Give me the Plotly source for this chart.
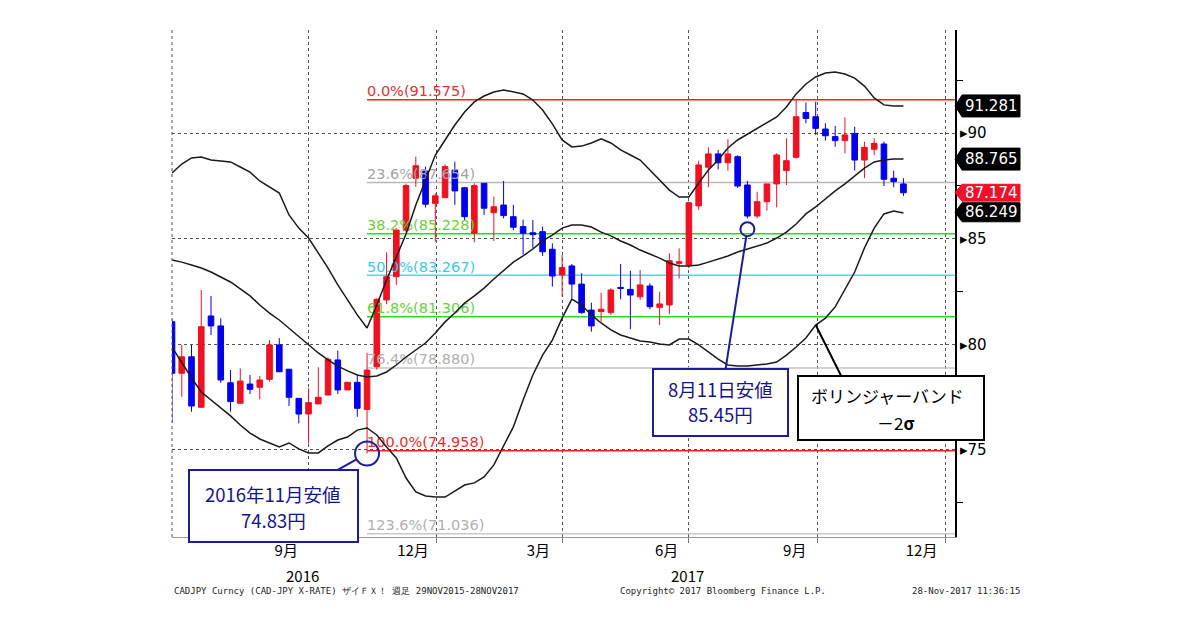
import plotly.graph_objects as go
import pandas as pd

# weekly CAD/JPY candles
opens = [81.07, 78.63, 79.41, 77.02, 81.34, 80.87, 78.18, 77.21, 78.12, 77.97,
         78.34, 79.97, 78.82, 77.44, 76.70, 77.18, 77.60, 79.26, 77.84, 78.20,
         76.92, 78.94, 82.10, 83.20, 85.40, 87.86, 88.20, 86.67, 86.94, 88.25,
         87.41, 85.26, 87.62, 86.23, 86.59, 86.04, 85.57, 85.28, 85.33, 84.50,
         83.28, 83.71, 82.85, 81.62, 81.55, 81.50, 82.69, 82.60, 82.25, 82.76,
         81.75, 81.86, 83.83, 83.75, 86.55, 88.38, 89.01, 88.59, 88.88, 87.54,
         86.07, 86.75, 87.59, 88.22, 88.85, 90.97, 90.77, 90.19, 89.83, 89.64,
         89.98, 88.72, 89.23, 89.48, 87.86, 87.59]
highs = [81.20, 79.97, 79.97, 82.57, 82.29, 81.23, 78.78, 78.86, 78.55, 78.50,
         80.20, 80.29, 78.82, 77.44, 77.92, 78.91, 79.39, 79.70, 78.20, 78.55,
         79.60, 82.18, 84.35, 85.50, 87.60, 88.88, 88.41, 87.15, 88.52, 88.64,
         87.45, 87.62, 87.62, 86.99, 87.73, 86.60, 85.90, 85.88, 85.57, 84.78,
         84.23, 83.80, 83.36, 81.97, 82.44, 82.65, 83.80, 83.48, 83.52, 82.89,
         82.49, 84.31, 84.54, 86.75, 88.69, 89.32, 89.20, 89.70, 88.95, 87.74,
         87.22, 87.59, 89.04, 89.75, 91.575, 91.44, 91.48, 90.46, 90.33, 90.74,
         90.30, 89.59, 89.75, 89.59, 88.22, 87.86]
lows = [76.28, 77.52, 76.81, 77.00, 80.44, 78.18, 76.81, 77.21, 77.65, 77.40,
        78.23, 78.70, 77.08, 76.26, 75.30, 77.18, 77.60, 77.65, 77.84, 76.57,
        74.83, 78.80, 81.90, 82.81, 85.30, 87.46, 86.47, 84.86, 86.94, 86.60,
        85.88, 84.83, 86.12, 84.89, 85.96, 85.40, 84.25, 84.54, 84.18, 82.73,
        82.25, 82.18, 81.45, 80.60, 81.07, 81.39, 82.13, 80.71, 82.10, 81.66,
        80.91, 81.43, 83.12, 83.60, 86.36, 87.43, 88.28, 88.22, 87.40, 85.96,
        85.96, 86.33, 86.48, 87.54, 88.80, 90.46, 89.91, 89.64, 89.35, 89.04,
        88.22, 87.86, 88.96, 87.49, 87.43, 87.02]
closes = [78.63, 79.41, 77.08, 80.83, 80.87, 78.31, 77.29, 78.26, 77.87, 78.31,
          79.97, 78.70, 77.49, 76.70, 77.24, 77.49, 79.29, 77.84, 78.20, 76.97,
          78.78, 82.13, 83.20, 85.41, 87.51, 88.45, 86.63, 87.03, 88.41, 87.26,
          86.04, 87.51, 86.44, 86.51, 86.09, 85.54, 85.25, 85.19, 84.38, 83.23,
          83.63, 82.85, 81.50, 80.87, 81.66, 82.57, 82.65, 82.33, 82.81, 81.78,
          81.91, 83.96, 83.91, 86.70, 88.49, 89.01, 88.59, 89.01, 87.49, 86.07,
          86.75, 87.59, 88.96, 88.69, 90.77, 90.69, 90.22, 89.87, 89.64, 89.91,
          88.72, 89.32, 89.51, 87.81, 87.70, 87.174]

# bollinger bands (20 weeks, +-2 sigma)
upper = [88.11, 88.53, 88.82, 88.86, 88.72, 88.67, 88.63, 88.39, 88.15, 87.73,
         87.44, 87.16, 86.12, 85.50, 85.03, 84.32, 83.61, 82.81, 82.10, 81.39,
         80.77, 81.86, 83.04, 84.13, 85.22, 86.59, 87.78, 88.96, 89.67, 90.38,
         90.99, 91.47, 91.75, 91.94, 92.04, 91.94, 91.85, 91.56, 91.09, 90.43,
         89.67, 89.34, 89.38, 89.53, 89.72, 89.53, 89.20, 88.96, 88.72, 88.25,
         87.78, 87.30, 86.97, 86.97, 87.63, 88.25, 88.72, 89.29, 89.67, 89.95,
         90.19, 90.47, 90.76, 91.23, 91.85, 92.32, 92.65, 92.84, 92.89, 92.79,
         92.60, 92.22, 91.66, 91.33, 91.28, 91.28]
middle = [83.99, 83.89, 83.75, 83.61, 83.42, 83.18, 82.95, 82.62, 82.29, 81.86,
          81.48, 81.15, 80.77, 80.35, 79.97, 79.59, 79.26, 78.97, 78.74, 78.55,
          78.45, 78.50, 78.69, 79.02, 79.40, 79.73, 80.06, 80.53, 81.06, 81.48,
          81.95, 82.29, 82.66, 83.09, 83.47, 83.89, 84.18, 84.51, 84.89, 85.17,
          85.50, 85.65, 85.65, 85.55, 85.31, 85.13, 84.89, 84.70, 84.46, 84.27,
          84.08, 83.85, 83.71, 83.71, 83.75, 83.89, 84.04, 84.18, 84.37, 84.51,
          84.65, 84.79, 85.03, 85.31, 85.69, 86.17, 86.50, 86.88, 87.26, 87.59,
          87.97, 88.34, 88.63, 88.72, 88.77, 88.77]
lower = [79.87, 79.12, 78.41, 77.74, 77.36, 76.99, 76.61, 76.18, 75.80, 75.52,
         75.33, 75.14, 75.33, 75.05, 74.86, 74.86, 75.19, 75.47, 75.61, 75.94,
         76.04, 75.71, 75.14, 74.62, 73.67, 73.01, 72.82, 72.77, 72.77, 73.06,
         73.34, 73.44, 73.72, 74.29, 75.19, 76.09, 77.36, 78.55, 79.49, 80.20,
         81.24, 82.14, 81.86, 81.39, 81.01, 80.68, 80.44, 80.30, 80.16, 80.11,
         80.01, 79.97, 80.25, 80.25, 79.97, 79.64, 79.30, 79.02, 78.97, 78.97,
         79.02, 79.07, 79.16, 79.49, 79.87, 80.30, 80.91, 81.24, 81.77, 82.57,
         83.42, 84.56, 85.50, 86.17, 86.31, 86.21]

dates = pd.date_range('2016-06-25', periods=len(closes), freq='7D')

# fibonacci retracement
fib_pcts = ['0.0%', '23.6%', '38.2%', '50.0%', '61.8%', '76.4%', '100.0%', '123.6%']
fib_levels = [91.575, 87.654, 85.228, 83.267, 81.306, 78.880, 74.958, 71.036]
fib_line_colors = ['#ff1f1f', '#b8b8b8', '#22dd22', '#44dde8',
                   '#22dd22', '#c4c4c4', '#ff1f1f', '#c8c8c8']
fib_text_colors = ['#e43030', '#a4a4a4', '#6ad13c', '#33ccee',
                   '#6ad13c', '#b0b0b0', '#e43030', '#b0b0b0']

# right side price tags
tag_values = [91.281, 88.765, 87.174, 86.249]
tag_colors = ['black', 'black', '#f0102a', 'black']
tag_half = [0.52, 0.52, 0.40, 0.45]

month_ticks = ['2016-09-15', '2016-12-15', '2017-03-15', '2017-06-15', '2017-09-15', '2017-12-15']
month_labels = ['9月', '12月', '3月', '6月', '9月', '12月']
quarter_starts = ['2016-10-01', '2017-01-01', '2017-04-01', '2017-07-01', '2017-10-01', '2018-01-01']
y_ticks = [75, 80, 85, 90]
y_minor = [72.5, 77.5, 82.5, 87.5, 92.5]

x_start, x_end = '2016-06-25', '2018-01-08'
low_2016, low_aug, band_note = 20, 59, 66
aug_low = 85.45

RED = '#ee1122'
BLUE = '#0000ee'
NAVY = '#1c1ca0'
JP = 'Noto Sans CJK JP'

fig = go.Figure()

fig.add_trace(go.Scatter(
    x=[dates[low_2016]] * len(fib_levels), y=fib_levels, mode='text',
    text=[f'{p}({v:.3f})' for p, v in zip(fib_pcts, fib_levels)],
    textposition='top right',
    textfont=dict(family='DejaVu Sans', size=14.5, color=fib_text_colors),
    hoverinfo='skip'))

fig.add_trace(go.Candlestick(
    x=dates, open=opens, high=highs, low=lows, close=closes,
    increasing=dict(line=dict(color=RED, width=1), fillcolor=RED),
    decreasing=dict(line=dict(color=BLUE, width=1), fillcolor=BLUE),
    whiskerwidth=0))

for band in (upper, middle, lower):
    fig.add_trace(go.Scatter(x=dates, y=band, mode='lines',
                             line=dict(color='#1a1a1a', width=1.5), hoverinfo='skip'))

shapes = []
for lvl, col in zip(fib_levels, fib_line_colors):
    shapes.append(dict(type='line', xref='x', yref='y', x0=dates[low_2016], x1=x_end,
                       y0=lvl, y1=lvl, line=dict(color=col, width=1.5), layer='between'))

shapes.append(dict(type='line', xref='paper', yref='paper', x0=0, x1=0, y0=0, y1=1,
                   line=dict(color='#555', width=1, dash='dot')))

shapes.append(dict(type='circle', xref='x', yref='y', xsizemode='pixel', ysizemode='pixel',
                   xanchor=dates[low_2016], yanchor=lows[low_2016],
                   x0=-12, x1=12, y0=-12, y1=12, line=dict(color=NAVY, width=2)))
shapes.append(dict(type='circle', xref='x', yref='y', xsizemode='pixel', ysizemode='pixel',
                   xanchor=dates[low_aug], yanchor=aug_low,
                   x0=-7, x1=7, y0=-7, y1=7, line=dict(color=NAVY, width=2)))

tx0, tx1, tx2 = 1.0, 1.009, 1.083
for v, col, h in zip(tag_values, tag_colors, tag_half):
    path = (f'M {tx0},{v} L {tx1},{v + h} L {tx2},{v + h} '
            f'L {tx2},{v - h} L {tx1},{v - h} Z')
    shapes.append(dict(type='path', xref='paper', yref='y', path=path,
                       fillcolor=col, line=dict(color=col, width=1)))

annotations = []
for v in tag_values:
    annotations.append(dict(xref='paper', yref='y', x=1.047, y=v, text=f'{v:.3f}',
                            xanchor='center', yanchor='middle', showarrow=False,
                            font=dict(family='DejaVu Sans', size=15, color='white')))


def callout(x, y, lines, box_dx, box_dy, w, h, line_dy, color, text_color, size,
            standoff=0, arrow=None):
    # empty framed box with its pointer, then each text line on top of it
    ax, ay = arrow if arrow else (box_dx, box_dy)
    if arrow:
        annotations.append(dict(x=x, y=y, text='', showarrow=True, arrowhead=0,
                                arrowwidth=2, arrowcolor=color, standoff=standoff,
                                ax=ax, ay=ay))
        annotations.append(dict(x=x, y=y, text=' ', showarrow=False,
                                xshift=box_dx, yshift=-box_dy, width=w, height=h,
                                bgcolor='white', bordercolor=color, borderwidth=2,
                                borderpad=2))
    else:
        annotations.append(dict(x=x, y=y, text=' ', showarrow=True, arrowhead=0,
                                arrowwidth=2, arrowcolor=color, standoff=standoff,
                                ax=ax, ay=ay, width=w, height=h,
                                bgcolor='white', bordercolor=color, borderwidth=2,
                                borderpad=2))
    for (txt, dx), dy in zip(lines, line_dy):
        annotations.append(dict(x=x, y=y, text=txt, showarrow=False,
                                xshift=box_dx + dx, yshift=-(box_dy + dy),
                                font=dict(family=JP, size=size, color=text_color)))


callout(dates[low_2016], lows[low_2016],
        [('2016年11月安値', 0), ('74.83円', 0)],
        -94, 52, 163, 66, [-12, 14], NAVY, '#14148c', 18.5, standoff=12)
callout(dates[low_aug], aug_low,
        [('8月11日安値', 0), ('85.45円', 0)],
        -27, 173, 129, 61, [-13, 12], NAVY, '#14148c', 18.5, standoff=7)
callout(dates[band_note], lower[band_note],
        [('ボリンジャーバンド', -3), ('－2<b>σ</b>', 5)],
        75, 83, 180, 58, [-13, 14], 'black', 'black', 17, arrow=(26, 52))

annotations.append(dict(xref='paper', yref='paper', x=0.167, y=-0.075, text='2016',
                        xanchor='center', yanchor='middle', showarrow=False,
                        font=dict(family=JP, size=15, color='black')))
annotations.append(dict(xref='paper', yref='paper', x=0.658, y=-0.075, text='2017',
                        xanchor='center', yanchor='middle', showarrow=False,
                        font=dict(family=JP, size=15, color='black')))

foot = dict(family='DejaVu Sans Mono', size=9, color='#222')
annotations.append(dict(xref='paper', yref='paper', x=0, y=-0.1065, xanchor='left',
                        yanchor='middle',
                        text='CADJPY Curncy (CAD-JPY X-RATE) ザイＦＸ！ 週足 29NOV2015-28NOV2017',
                        showarrow=False, font=foot))
annotations.append(dict(xref='paper', yref='paper', x=0.7037, y=-0.1065, xanchor='center',
                        yanchor='middle', text='Copyright© 2017 Bloomberg Finance L.P.',
                        showarrow=False, font=foot))
annotations.append(dict(xref='paper', yref='paper', x=1.0856, y=-0.1065, xanchor='right',
                        yanchor='middle', text='28-Nov-2017 11:36:15',
                        showarrow=False, font=foot))

# the page body has an 8px margin, so the plot frame is pulled back by that much
fig.update_layout(
    width=1200, height=630,
    margin=dict(l=164, r=253, t=22, b=101),
    plot_bgcolor='white', paper_bgcolor='white',
    showlegend=False, boxgap=0.18,
    shapes=shapes, annotations=annotations,
    xaxis=dict(
        type='date', range=[x_start, x_end], rangeslider=dict(visible=False),
        tickvals=month_ticks, ticktext=month_labels, ticks='', showgrid=False,
        showline=True, linecolor='#999', linewidth=1, zeroline=False,
        tickfont=dict(family=JP, size=15, color='black'),
        minor=dict(tickvals=quarter_starts, ticks='outside', ticklen=5, tickcolor='#777',
                   showgrid=True, gridcolor='#555', griddash='dot', gridwidth=1)),
    yaxis=dict(
        side='right', range=[70.88, 94.875],
        tickvals=y_ticks, ticktext=['▸' + str(t) for t in y_ticks], ticks='',
        showgrid=True, gridcolor='#555', griddash='dot', gridwidth=1,
        showline=True, linecolor='black', linewidth=2, zeroline=False,
        tickfont=dict(family='DejaVu Sans', size=15, color='black'),
        minor=dict(tickvals=y_minor, ticks='outside', ticklen=6, tickcolor='black',
                   showgrid=False)),
)

fig.write_html('out.html')
